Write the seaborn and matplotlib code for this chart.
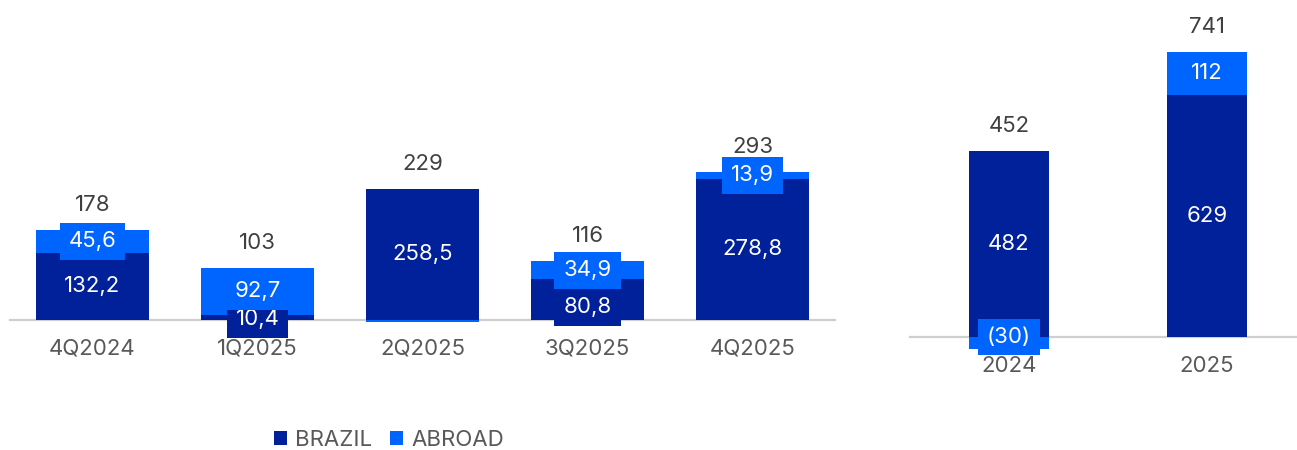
import numpy as np
import pandas as pd
import matplotlib
matplotlib.use("Agg")
import matplotlib.pyplot as plt
from matplotlib.path import Path
from matplotlib.patches import Patch
import seaborn as sns

# Quarterly results by region
quarters = ["4Q2024", "1Q2025", "2Q2025", "3Q2025", "4Q2025"]
brazil_q = [132.2, 10.4, 258.5, 80.8, 278.8]
abroad_q = [45.6, 92.7, -4.0, 34.9, 13.9]
abroad_q_labelled = [True, True, False, True, True]
totals_q = ["178", "103", "229", "116", "293"]

# Full-year results by region
years = ["2024", "2025"]
brazil_y = [482, 629]
abroad_y = [-30, 112]
abroad_y_labelled = [True, True]
totals_y = ["452", "741"]

DARK = "#00219A"
LIGHT = "#0064FF"
TOTAL_COLOR = "#404040"
TICK_COLOR = "#595959"
BASE_COLOR = "#CFCFCF"
FS = 16.0

sns.set_style("white")
plt.rcParams["font.family"] = ["Inter", "DejaVu Sans"]

W, H, DPI = 1297, 450, 100
fig = plt.figure(figsize=(W / DPI, H / DPI), dpi=DPI)


def label_box(x0, y0, width, height, mutation_size):
    # rectangular label background, wider than tall
    px, py = 0.4 * mutation_size, 0.38 * mutation_size
    verts = [(x0 - px, y0 - py), (x0 + width + px, y0 - py),
             (x0 + width + px, y0 + height + py), (x0 - px, y0 + height + py),
             (x0 - px, y0 - py)]
    return Path(verts, [Path.MOVETO, Path.LINETO, Path.LINETO, Path.LINETO, Path.CLOSEPOLY])


def fmt(v, decimals):
    s = f"{abs(v):.{decimals}f}".replace(".", ",")
    return f"({s})" if v < 0 else s


def draw_panel(rect, cats, brazil, abroad, labelled, totals, decimals, width, xlim, ylim, pad):
    ax = fig.add_axes(rect)
    df = pd.DataFrame({"cat": cats, "brazil": brazil, "abroad": abroad})
    df["abroad_base"] = np.where(df["abroad"] >= 0, df["brazil"].clip(lower=0), 0.0)

    sns.barplot(data=df, x="cat", y="brazil", color=DARK, width=width, errorbar=None,
                saturation=1, linewidth=0, ax=ax, zorder=3)
    sns.barplot(data=df, x="cat", y="abroad", color=LIGHT, width=width, errorbar=None,
                saturation=1, linewidth=0, ax=ax, zorder=3,
                bottom=df["abroad_base"].to_numpy())

    ax.set_xlim(*xlim)
    ax.set_ylim(*ylim)
    ax.set_xlabel("")
    ax.set_ylabel("")
    ax.set_yticks([])
    for side in ("top", "left", "right"):
        ax.spines[side].set_visible(False)
    ax.spines["bottom"].set_position(("data", 0))
    ax.spines["bottom"].set_color(BASE_COLOR)
    ax.spines["bottom"].set_linewidth(1.6)
    ax.spines["bottom"].set_zorder(2)
    ax.tick_params(axis="x", length=0, pad=pad, labelsize=FS, labelcolor=TICK_COLOR)
    ax.patch.set_alpha(0)

    seg_labels = []
    for i, row in df.iterrows():
        segs = [(row["brazil"], 0.0, DARK, True),
                (row["abroad"], row["abroad_base"], LIGHT, labelled[i])]
        bar_labels = []
        for val, base, col, show in segs:
            if not show:
                continue
            t = ax.annotate(fmt(val, decimals), xy=(i, base + val / 2), xytext=(0, 0),
                            textcoords="offset pixels", ha="center", va="center",
                            color="white", fontsize=FS, zorder=5, annotation_clip=False,
                            bbox=dict(boxstyle=label_box, facecolor=col, edgecolor="none"))
            bar_labels.append(t)
        seg_labels.append(bar_labels)

        top = row["brazil"] + max(row["abroad"], 0) if row["brazil"] >= 0 else max(row["abroad"], 0)
        ax.annotate(totals[i], xy=(i, top), xytext=(0, 25), textcoords="offset pixels",
                    ha="center", va="center", color=TOTAL_COLOR, fontsize=FS, zorder=5,
                    annotation_clip=False)
    return ax, seg_labels


panels = [
    draw_panel([10 / W, 0, 825 / W, 1], quarters, brazil_q, abroad_q, abroad_q_labelled,
               totals_q, 1, 0.68, (-0.5, 4.5), (-130 / 0.507, 320 / 0.507), 13.5),
    draw_panel([910 / W, 0, 387 / W, 1], years, brazil_y, abroad_y, abroad_y_labelled,
               totals_y, 0, 0.40, (-0.5, 1.455), (-113 / 0.385, 337 / 0.385), 14),
]

# keep segment labels from overlapping each other and the category labels
fig.canvas.draw()
renderer = fig.canvas.get_renderer()
for ax, seg_labels in panels:
    tick_tops = [tl.get_window_extent(renderer).y1 + 1 for tl in ax.get_xticklabels()]
    for i, bar_labels in enumerate(seg_labels):
        boxes = [t.get_bbox_patch().get_window_extent(renderer) for t in bar_labels]
        shifts = [0.0] * len(bar_labels)
        order = sorted(range(len(boxes)), key=lambda k: -boxes[k].y0)
        for a, b in zip(order[:-1], order[1:]):
            upper_bottom = boxes[a].y0 + shifts[a]
            lower_top = boxes[b].y1 + shifts[b]
            if lower_top > upper_bottom:
                shifts[b] -= lower_top - upper_bottom
        for k in range(len(boxes)):
            bottom = boxes[k].y0 + shifts[k]
            if bottom < tick_tops[i]:
                shifts[k] += tick_tops[i] - bottom
            bar_labels[k].xyann = (0, shifts[k])

handles = [Patch(facecolor=DARK, edgecolor="none", label="BRAZIL"),
           Patch(facecolor=LIGHT, edgecolor="none", label="ABROAD")]
fig.legend(handles=handles, loc="center", bbox_to_anchor=(389 / W, 1 - 440 / H), ncol=2,
           frameon=False, fontsize=16, labelcolor=TICK_COLOR, handlelength=0.6,
           handleheight=0.6, handletextpad=0.35, columnspacing=0.8, borderpad=0)

fig.savefig("out.png", dpi=DPI)
